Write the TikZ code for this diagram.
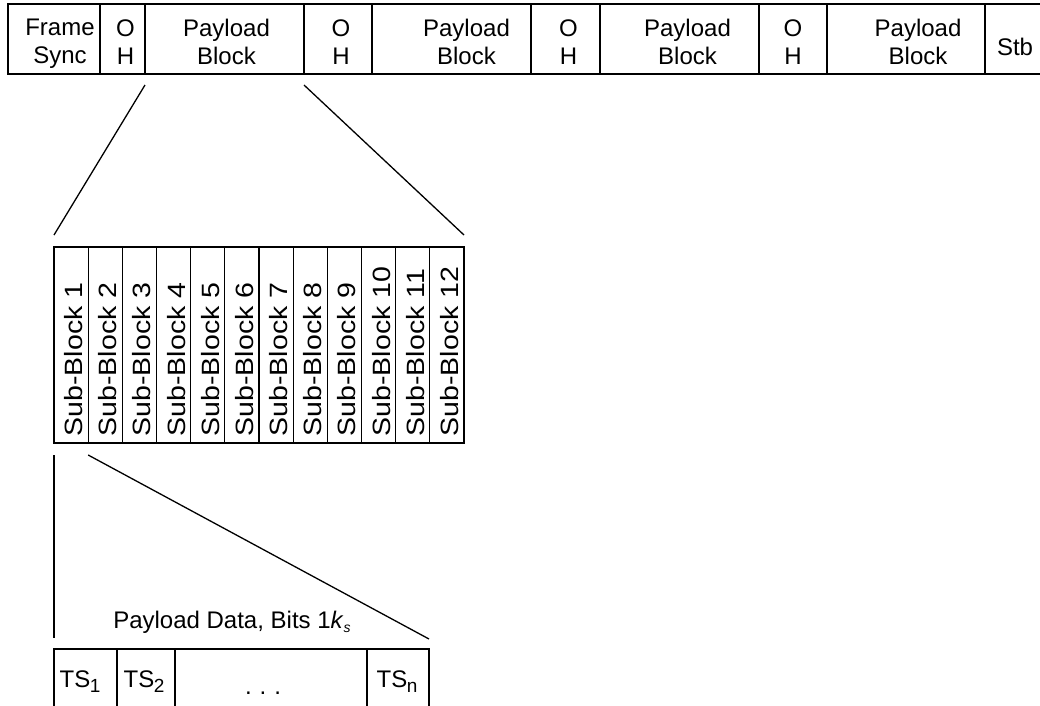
\documentclass[tikz,border=0pt]{standalone}
\usepackage{fontspec}
\setmainfont{Liberation Sans}
\usetikzlibrary{calc}
\begin{document}
\begin{tikzpicture}[x=1pt,y=-1pt,line width=1.3pt,
  txt/.style={font=\fontsize{24}{28}\selectfont, align=center, inner sep=0pt},
  cell/.style={draw, inner sep=0pt, outer sep=0pt, minimum height=70pt, anchor=north west},
  subcell/.style={draw, inner sep=0pt, outer sep=0pt, minimum width=34.1667pt, minimum height=196pt, anchor=north west},
  tscell/.style={draw, inner sep=0pt, outer sep=0pt, minimum height=80pt, anchor=north west},
  sublbl/.style={font=\fontsize{25}{25}\selectfont, inner sep=0pt, rotate=90, anchor=west},
  link/.style={line width=1.3pt}]
\useasboundingbox (0,0) rectangle (1040,705);
\clip (0,0) rectangle (1040,705);

% frame structure
\node[cell, minimum width=92pt,  label={[txt, xshift=6pt,  yshift=-5pt]center:Frame\\Sync}] (fs) at (8,4) {};
\node[cell, minimum width=45pt,  label={[txt, xshift=3pt,  yshift=-3pt]center:O\\H}] (oh1) at (100,4) {};
\node[cell, minimum width=159pt, label={[txt, xshift=2pt,  yshift=-3pt]center:Payload\\Block}] (pb1) at (145,4) {};
\node[cell, minimum width=68pt,  label={[txt, xshift=3pt,  yshift=-3pt]center:O\\H}] (oh2) at (304,4) {};
\node[cell, minimum width=159pt, label={[txt, xshift=15pt, yshift=-3pt]center:Payload\\Block}] (pb2) at (372,4) {};
\node[cell, minimum width=69pt,  label={[txt, xshift=3pt,  yshift=-3pt]center:O\\H}] (oh3) at (531,4) {};
\node[cell, minimum width=159pt, label={[txt, xshift=8pt,  yshift=-3pt]center:Payload\\Block}] (pb3) at (600,4) {};
\node[cell, minimum width=68pt,  label={[txt, yshift=-3pt]center:O\\H}] (oh4) at (759,4) {};
\node[cell, minimum width=158pt, label={[txt, xshift=12pt, yshift=-3pt]center:Payload\\Block}] (pb4) at (827,4) {};
\node[cell, minimum width=80pt] (stb) at (985,4) {};
\node[txt, anchor=base] (stbt) at (1015,55) {Stb};

% payload block split into sub-blocks
\foreach \i in {1,...,12} {
  \node[subcell] (sb\i) at ({54+(\i-1)*34.1667},247) {};
  \node[sublbl] (sbt\i) at ($(sb\i.south)+(2.5,-6)$) {\scalebox{1.14}[1]{Sub-Block \i}};
}

% zoom lines from the payload block to the sub-blocks
\draw[link] ($(pb1.south west)+(0,11)$) -- ($(sb1.north west)+(0,-12)$);
\draw[link] ($(pb1.south east)+(0,11)$) -- ($(sb12.north east)+(0,-12)$);

% time slots of one sub-block
\node[tscell, minimum width=63pt]  (ts1) at (54,649) {};
\node[tscell, minimum width=58pt]  (ts2) at (117,649) {};
\node[tscell, minimum width=192pt] (tsd) at (175,649) {};
\node[tscell, minimum width=62pt]  (tsn) at (367,649) {};

\node[txt, anchor=base] (ts1t) at (80,687) {TS\kern-0.5pt\raisebox{-5pt}{\fontsize{19}{19}\selectfont 1}};
\node[txt, anchor=base] (ts2t) at (144,687) {TS\kern-0.5pt\raisebox{-5pt}{\fontsize{19}{19}\selectfont 2}};
\node[txt, anchor=base] (tsdt) at (263,694) {.\hspace{8pt}.\hspace{8pt}.};
\node[txt, anchor=base] (tsnt) at (397,687) {TS\kern-0.5pt\raisebox{-5pt}{\fontsize{19}{19}\selectfont n}};

\node[txt, anchor=base] (pd) at (232,628) {Payload Data, Bits 1\textit{k}\raisebox{-4pt}{\fontsize{14}{14}\selectfont\textit{s}}};

% zoom lines from sub-block 1 to its time slots
\draw[link] ($(sb1.south west)+(0,12)$) -- ($(ts1.north west)+(0,-11)$);
\draw[link] ($(sb1.south east)+(0,12)$) -- ($(tsn.north east)+(0,-10)$);
\end{tikzpicture}
\end{document}
